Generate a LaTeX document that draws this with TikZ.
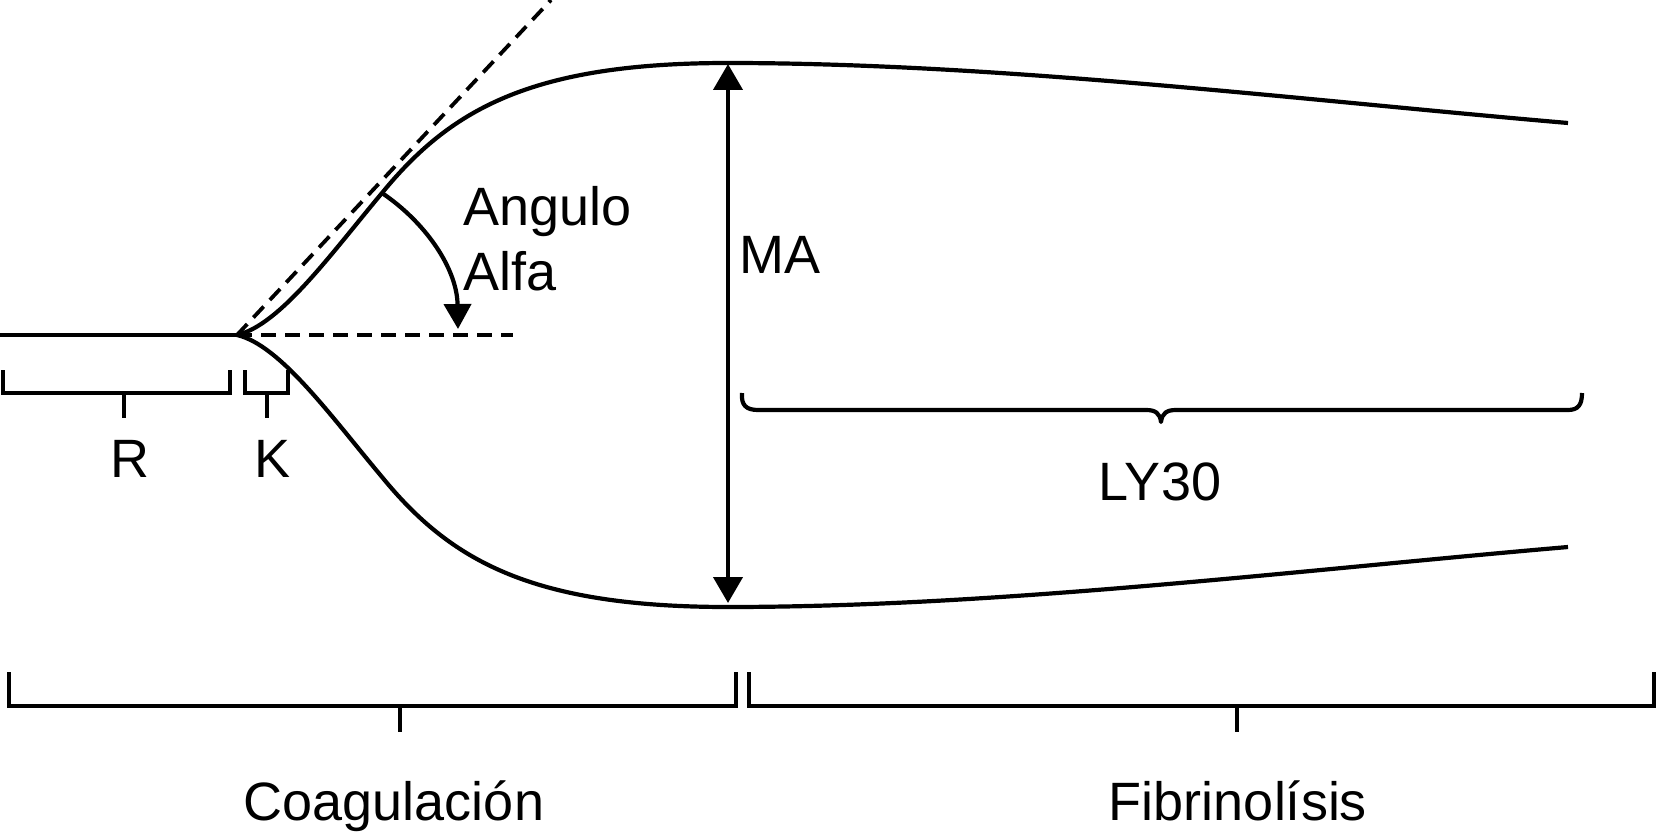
\documentclass[tikz,border=0pt]{standalone}
\usepackage{fontspec}
\setmainfont{Liberation Sans}
\usetikzlibrary{arrows.meta}
\begin{document}
\begin{tikzpicture}[x=1pt,y=-1pt,
  curve/.style={line width=4.2pt},
  dashln/.style={line width=3.8pt, dash pattern=on 15pt off 9pt},
  lbl/.style={font=\fontsize{54}{62}\selectfont, inner sep=0pt},
  bracketln/.style={line width=4pt, line cap=butt, line join=miter}
]
\useasboundingbox (0,0) rectangle (1659,832);
% key points
\coordinate (start) at (0,335);
\coordinate (apex) at (237,335);
\coordinate (dashend) at (513,335);
\coordinate (tanend) at (551,0);
\coordinate (top) at (728,63);
\coordinate (bot) at (728,607);
\coordinate (arcs) at (382,193);
\coordinate (arce) at (458,329);
% baseline and dashed guides
\draw[curve] (start) -- (apex);
\draw[dashln] (apex) -- (dashend);
\draw[dashln] (apex) -- (tanend);
% upper and lower curves
\draw[curve] (apex) .. controls (280,325) and (330,255) .. (arcs)
  .. controls (450,110) and (530,63) .. (top)
  .. controls (1000,63) and (1300,100) .. (1568,123);
\draw[curve] (apex) .. controls (280,345) and (330,415) .. (382,477)
  .. controls (450,560) and (530,607) .. (bot)
  .. controls (1000,607) and (1300,570) .. (1568,547);
% MA arrow
\draw[curve, {Triangle[width=29pt,length=26pt]}-{Triangle[width=29pt,length=26pt]}, shorten <=1pt, shorten >=4pt] (top) -- (bot);
% angle arc
\draw[curve, -{Triangle[width=27pt,length=25pt]}] (arcs) .. controls (425,222) and (457,268) .. (arce);
% labels
\node[lbl, anchor=base west] (angulo) at (463,225) {Angulo};
\node[lbl, anchor=base west] (alfa) at (463,290) {Alfa};
\node[lbl, anchor=base west] (ma) at (739,273) {MA};
\node[lbl, anchor=base] (rlab) at (130,477) {R};
\node[lbl, anchor=base] (klab) at (273,477) {K};
\node[lbl, anchor=base] (ly) at (1160,500) {LY30};
\node[lbl, anchor=base] (coag) at (394,820) {Coagulación};
\node[lbl, anchor=base] (fib) at (1238,820) {Fibrinolísis};
% R bracket
\coordinate (rl) at (3,370); \coordinate (rr) at (230,370);
\coordinate (rc) at (124,393); \coordinate (rt) at (124,418);
\draw[bracketln] (rl) |- (rr |- rc) -- (rr);
\draw[bracketln] (rc) -- (rt);
% K bracket
\coordinate (kl) at (245,370); \coordinate (kr) at (288,370);
\coordinate (kc) at (267,393); \coordinate (kt) at (267,418);
\draw[bracketln] (kl) |- (kr |- kc) -- (kr);
\draw[bracketln] (kc) -- (kt);
% LY30 brace
\coordinate (bl) at (742,393); \coordinate (br) at (1582,393);
\coordinate (btip) at (1161,422);
\draw[curve, line join=round] (bl) .. controls (741,405) and (746,410) .. (758,410) -- (1146,410)
  .. controls (1155,410) and (1160,413) .. (btip)
  .. controls (1162,413) and (1167,410) .. (1176,410) -- (1568,410)
  .. controls (1578,410) and (1582,405) .. (br);
% Coagulacion bracket
\coordinate (cl) at (9,672); \coordinate (cr) at (736,672);
\coordinate (cc) at (400,706); \coordinate (ct) at (400,732);
\draw[bracketln] (cl) |- (cr |- cc) -- (cr);
\draw[bracketln] (cc) -- (ct);
% Fibrinolisis bracket
\coordinate (fl) at (749,672); \coordinate (fr) at (1654,672);
\coordinate (fc) at (1237,706); \coordinate (ft) at (1237,732);
\draw[bracketln] (fl) |- (fr |- fc) -- (fr);
\draw[bracketln] (fc) -- (ft);
\end{tikzpicture}
\end{document}
